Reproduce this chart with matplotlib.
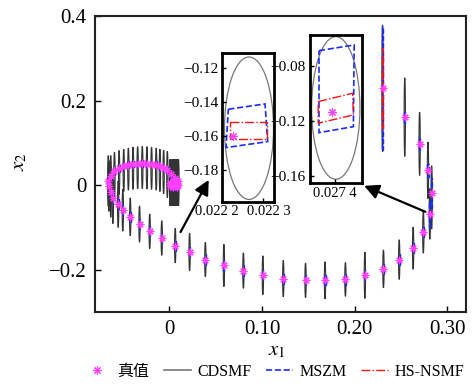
import matplotlib
matplotlib.use('Agg')
import matplotlib.pyplot as plt
from matplotlib.patches import Ellipse, Rectangle, Polygon
from matplotlib.lines import Line2D

# true trajectory (ordered from the start point)
true_x = [0.230, 0.254, 0.270, 0.279, 0.283, 0.281, 0.274, 0.263, 0.248, 0.231,
          0.211, 0.190, 0.168, 0.147, 0.123, 0.101, 0.080, 0.059, 0.039, 0.022,
          0.0065, -0.008, -0.021, -0.032, -0.042, -0.050, -0.055, -0.0607, -0.063, -0.065,
          -0.0657, -0.063, -0.059, -0.054, -0.049, -0.044, -0.039, -0.034, -0.029, -0.024,
          -0.019, -0.014, -0.010, -0.006, -0.002, 0.002, 0.006, 0.009, 0.010, 0.008,
          0.004, 0.001, 0.001, 0.004, 0.007, 0.008, 0.006, 0.004, 0.005]
true_y = [0.229, 0.161, 0.098, 0.035, -0.019, -0.068, -0.111, -0.149, -0.176, -0.198,
          -0.213, -0.223, -0.225, -0.225, -0.221, -0.213, -0.202, -0.190, -0.176, -0.158,
          -0.143, -0.125, -0.109, -0.092, -0.075, -0.059, -0.045, -0.031, -0.016, -0.002,
          0.010, 0.022, 0.033, 0.040, 0.045, 0.048, 0.050, 0.051, 0.052, 0.051,
          0.050, 0.048, 0.045, 0.041, 0.035, 0.027, 0.018, 0.009, 0.001, -0.004,
          -0.005, -0.001, 0.006, 0.010, 0.008, 0.003, 0.000, 0.002, 0.005]

# CDSMF ellipse: half height and centre shift along x2
cd_h = [0.150, 0.093, 0.075, 0.067, 0.075, 0.060, 0.050, 0.050, 0.047, 0.045,
        0.055, 0.040, 0.044, 0.041, 0.043, 0.046, 0.042, 0.050, 0.041, 0.044,
        0.041, 0.041, 0.041, 0.043, 0.045, 0.050, 0.055, 0.060, 0.060, 0.060,
        0.060, 0.058, 0.055, 0.052, 0.050, 0.050, 0.050, 0.050, 0.050, 0.050,
        0.050, 0.050, 0.050, 0.052, 0.055, 0.055, 0.055, 0.055, 0.055, 0.055,
        0.055, 0.055, 0.055, 0.055, 0.055, 0.055, 0.055, 0.055, 0.055]
cd_dy = [0, 0, 0, 0, -0.010, 0, 0, 0, 0, 0,
         0, 0, 0, 0, 0, 0, 0, 0, 0, 0,
         0, 0, 0, 0, 0, 0, 0, 0, 0, 0,
         0, -0.010, -0.010, -0.010, -0.010, -0.010, -0.010, -0.010, -0.010, -0.010,
         -0.010, -0.010, -0.010, -0.010, -0.010, -0.021, -0.012, -0.003, 0.005, 0.010,
         0.011, 0.007, 0.000, -0.004, -0.002, 0.003, 0.006, 0.004, 0.001]
# MSZM and HS-NSMF half heights
ms_h = [0.147, 0.015, 0.015, 0.015, 0.035, 0.030, 0.012, 0.012, 0.012, 0.012,
        0.012, 0.012, 0.012, 0.012, 0.012, 0.012, 0.012, 0.012, 0.012, 0.012,
        0.012, 0.012, 0.012, 0.012, 0.012, 0.012, 0.012, 0.012, 0.012, 0.012,
        0.010, 0.008, 0.008, 0.008, 0.008, 0.008, 0.008, 0.008, 0.008, 0.008,
        0.008, 0.008, 0.008, 0.008, 0.008, 0.008, 0.008, 0.008, 0.008, 0.008,
        0.008, 0.008, 0.008, 0.008, 0.008, 0.008, 0.008, 0.008, 0.008]
hs_h = [0.095] + [0.006] * 58

# zoomed boxes (inset 1 and inset 2)
in1_ell = (0.0222661, -0.15529, 0.0001213, 0.0839)
in1_ms_x = [0.0222149, 0.0223057, 0.0223124, 0.0222092]
in1_ms_y = [-0.14412, -0.14100, -0.16318, -0.16671]
in1_hs_x = [0.0222191, 0.0223099, 0.0223099, 0.0222191]
in1_hs_y = [-0.15141, -0.15141, -0.16159, -0.16159]
in1_true = (0.0222272, -0.15982)

in2_ell = (0.027402, -0.11055, 0.0001208, 0.1037)
in2_ms_x = [0.02736, 0.027448, 0.027446, 0.02736]
in2_ms_y = [-0.06887, -0.06473, -0.12415, -0.12851]
in2_hs_x = [0.027358, 0.027444, 0.027446, 0.027358]
in2_hs_y = [-0.10596, -0.09985, -0.11564, -0.12167]
in2_true = (0.027392, -0.11324)

GREY = '#333333'
BLUE = '#1a2cff'
RED = '#ff1010'
MAG = '#ff40ff'
STAR = (8, 2, 0)

plt.rcParams['font.family'] = ['Liberation Serif', 'Noto Sans CJK SC']
plt.rcParams['mathtext.fontset'] = 'stix'

fig = plt.figure(figsize=(4.74, 3.85), dpi=100)
ax = fig.add_axes([0.2004, 0.1896, 0.7827, 0.7688])

cd_w, ms_w, hs_w = 0.0007, 0.0006, 0.0005
for x, y, h, dy in zip(true_x, true_y, cd_h, cd_dy):
    ax.add_patch(Ellipse((x, y + dy), 2 * cd_w, 2 * h, fill=False, ec=GREY, lw=0.8))
for x, y, h in zip(true_x, true_y, ms_h):
    ax.add_patch(Rectangle((x - ms_w, y - h), 2 * ms_w, 2 * h, fill=False,
                           ec=BLUE, ls='--', lw=1.0))
ax.plot(true_x, true_y, ls='none', marker=STAR, ms=5.5, mec=MAG, mew=0.8)
for x, y, h in zip(true_x, true_y, hs_h):
    ax.add_patch(Rectangle((x - hs_w, y - h), 2 * hs_w, 2 * h, fill=False,
                           ec=RED, ls='-.', lw=0.9))

ax.set_xlim(-0.08, 0.32)
ax.set_ylim(-0.3, 0.4)
ax.set_xticks([0, 0.1, 0.2, 0.3])
ax.set_xticklabels(['0', '0.10', '0.20', '0.30'])
ax.set_yticks([-0.2, 0, 0.2, 0.4])
ax.set_yticklabels(['\u22120.2', '0', '0.2', '0.4'])
ax.tick_params(direction='in', length=4, width=1, labelsize=15, pad=6)
for s in ax.spines.values():
    s.set_linewidth(1.5)
    s.set_color('#222222')

fig.text(0.584, 0.088, '$x_1$', fontsize=15, ha='center', va='center')
fig.text(0.042, 0.579, '$x_2$', fontsize=15, ha='center', va='center', rotation=90)

# arrows towards the zoomed boxes
arrow = dict(arrowstyle='-|>', mutation_scale=22, lw=1.6, color='k',
             shrinkA=0, shrinkB=0)
ax.annotate('', xy=(0.0426, 0.0125), xytext=(0.0122, -0.111), arrowprops=arrow)
ax.annotate('', xy=(0.2102, -0.0016), xytext=(0.2762, -0.063), arrowprops=arrow)


def draw_inset(rect, ell, ms_x, ms_y, hs_x, hs_y, tr):
    a = fig.add_axes(rect)
    a.add_patch(Ellipse((ell[0], ell[1]), ell[2], ell[3], fill=False, ec='#777777', lw=0.9))
    a.add_patch(Polygon(list(zip(ms_x, ms_y)), closed=True, fill=False,
                        ec=BLUE, ls='--', lw=1.2))
    a.add_patch(Polygon(list(zip(hs_x, hs_y)), closed=True, fill=False,
                        ec=RED, ls='-.', lw=1.0))
    a.plot([tr[0]], [tr[1]], ls='none', marker=STAR, ms=6, mec=MAG, mew=0.8)
    a.tick_params(direction='in', length=3, width=1, labelsize=11, pad=3)
    for s in a.spines.values():
        s.set_linewidth(2)
        s.set_color('k')
    return a


ax1 = draw_inset([0.469, 0.476, 0.1097, 0.3855], in1_ell, in1_ms_x, in1_ms_y,
                 in1_hs_x, in1_hs_y, in1_true)
ax1.set_xlim(0.0222, 0.0223287)
ax1.set_ylim(-0.1986, -0.1112)
ax1.set_xticks([0.0222, 0.0223])
ax1.set_xticklabels(['', ''])
# tick labels of this box sit a little apart from their ticks in the source
ax1.text(-0.10, -0.025, '0.022 2', transform=ax1.transAxes, ha='center', va='top', fontsize=10.5)
ax1.text(0.90, -0.025, '0.022 3', transform=ax1.transAxes, ha='center', va='top', fontsize=10.5)
ax1.set_yticks([-0.18, -0.16, -0.14, -0.12])
ax1.set_yticklabels(['\u22120.18', '\u22120.16', '\u22120.14', '\u22120.12'])

ax2 = draw_inset([0.654, 0.5255, 0.1103, 0.3836], in2_ell, in2_ms_x, in2_ms_y,
                 in2_hs_x, in2_hs_y, in2_true)
ax2.set_xlim(0.0273375, 0.02746825)
ax2.set_ylim(-0.1649, -0.0575)
ax2.set_xticks([0.0274])
ax2.set_xticklabels(['0.027 4'], fontsize=10.5)
ax2.set_yticks([-0.16, -0.12, -0.08])
ax2.set_yticklabels(['\u22120.16', '\u22120.12', '\u22120.08'])

handles = [Line2D([], [], ls='none', marker=STAR, ms=6, mec=MAG, mew=0.8),
           Line2D([], [], color='#777777', lw=1.2),
           Line2D([], [], color=BLUE, ls='--', lw=1.2),
           Line2D([], [], color=RED, ls='-.', lw=1.0)]
labels = ['真值', 'CDSMF', 'MSZM', 'HS-NSMF']
fig.legend(handles, labels, loc='center', bbox_to_anchor=(0.578, 0.034), ncol=4,
           frameon=False, fontsize=11.5, handlelength=1.7, columnspacing=0.9,
           handletextpad=0.4)

fig.savefig('out.png', dpi=100)
